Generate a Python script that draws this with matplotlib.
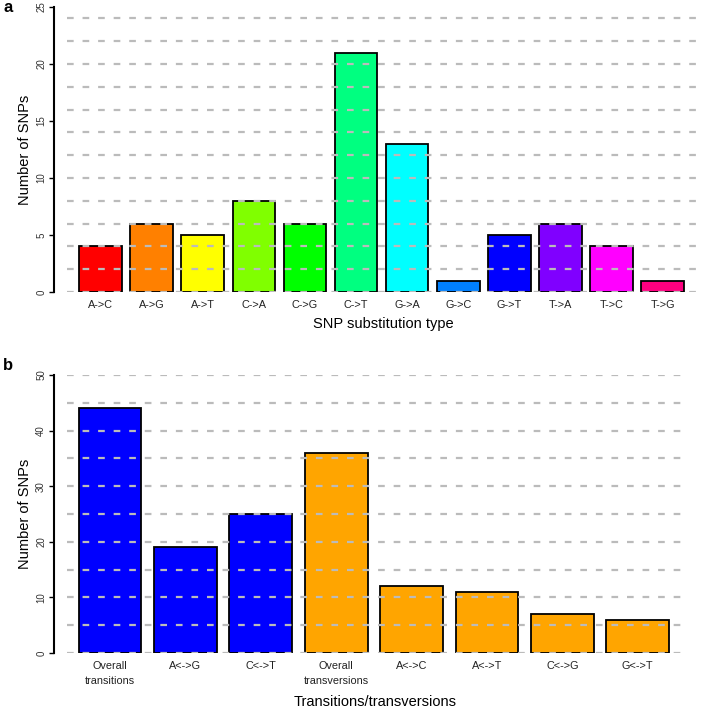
import matplotlib
matplotlib.use("Agg")
import matplotlib.pyplot as plt

plt.rcParams['font.family'] = ['Liberation Sans', 'DejaVu Sans']

# Panel a data
sub_types = ["A->C", "A->G", "A->T", "C->A", "C->G", "C->T",
             "G->A", "G->C", "G->T", "T->A", "T->C", "T->G"]
sub_counts = [4, 6, 5, 8, 6, 21, 13, 1, 5, 6, 4, 1]
sub_colors = ["#FF0000", "#FF8000", "#FFFF00", "#80FF00", "#00FF00", "#00FF80",
              "#00FFFF", "#0080FF", "#0000FF", "#8000FF", "#FF00FF", "#FF0080"]
a_yticks = [0, 5, 10, 15, 20, 25]
a_grid = [0, 2, 4, 6, 8, 10, 12, 14, 16, 18, 20, 22, 24]

# Panel b data
tt_labels = ["Overall\ntransitions", "A<->G", "C<->T", "Overall\ntransversions",
             "A<->C", "A<->T", "C<->G", "G<->T"]
tt_counts = [44, 19, 25, 36, 12, 11, 7, 6]
tt_colors = ["#0000FF", "#0000FF", "#0000FF", "#FFA500",
             "#FFA500", "#FFA500", "#FFA500", "#FFA500"]
b_yticks = [0, 10, 20, 30, 40, 50]
b_grid = [0, 5, 10, 15, 20, 25, 30, 35, 40, 45, 50]

W, H = 708, 709
fig = plt.figure(figsize=(W / 100, H / 100), dpi=100)


def px_axes(left, right, top, bottom):
    return fig.add_axes([left / W, 1 - bottom / H, (right - left) / W, (bottom - top) / H])


def style(ax, cats, vals, cols, yticks, grid, ylim, xlim, xlabel, lsp=1.2):
    x = list(range(len(cats)))
    ax.bar(x, vals, width=0.833, color=cols, edgecolor="black", linewidth=1.3, zorder=2)
    for g in grid:
        ax.axhline(g, color="#BBBBBB", linewidth=1.6, linestyle=(0, (3.0, 4.0)), zorder=3)
    ax.set_xlim(*xlim)
    ax.set_ylim(*ylim)
    for s in ["top", "right", "bottom"]:
        ax.spines[s].set_visible(False)
    ax.spines["left"].set_position(("outward", 9.4))
    ax.spines["left"].set_linewidth(1.5)
    ax.spines["left"].set_bounds(ylim[0], ylim[1])
    ax.set_yticks(yticks)
    ax.set_yticklabels([str(t) for t in yticks], rotation=90, va="center", fontsize=7,
                       color="#333333")
    ax.tick_params(axis="y", length=3.6, width=1.0, pad=2)
    ax.set_xticks(x)
    ax.set_xticklabels(cats, fontsize=7.8, linespacing=lsp, color="#222222")
    ax.tick_params(axis="x", length=0, pad=6)
    ax.set_xlabel(xlabel, fontsize=10.5)
    ax.set_ylabel("Number of SNPs", fontsize=10.5)
    ax.yaxis.label.set_va("center")


axa = px_axes(67, 700, 7, 292)
style(axa, sub_types, sub_counts, sub_colors, a_yticks, a_grid, (0, 25), (-0.656, 11.73),
      "SNP substitution type")
axa.xaxis.set_label_coords(0.5, -0.088)
axa.yaxis.set_label_coords((25 - 67) / 633, 0.5)

axb = px_axes(67, 683, 375, 653)
style(axb, tt_labels, tt_counts, tt_colors, b_yticks, b_grid, (0, 50), (-0.57, 7.6),
      "Transitions/transversions", lsp=1.55)
axb.xaxis.set_label_coords(0.5, -0.15)
axb.yaxis.set_label_coords((25 - 67) / 616, 0.5)

fig.text(3 / W, 1 - 8 / H, "a", fontsize=12, fontweight="bold", va="center", ha="left")
fig.text(3 / W, 1 - 365 / H, "b", fontsize=12, fontweight="bold", va="center", ha="left")

fig.savefig("out.png", dpi=100)
